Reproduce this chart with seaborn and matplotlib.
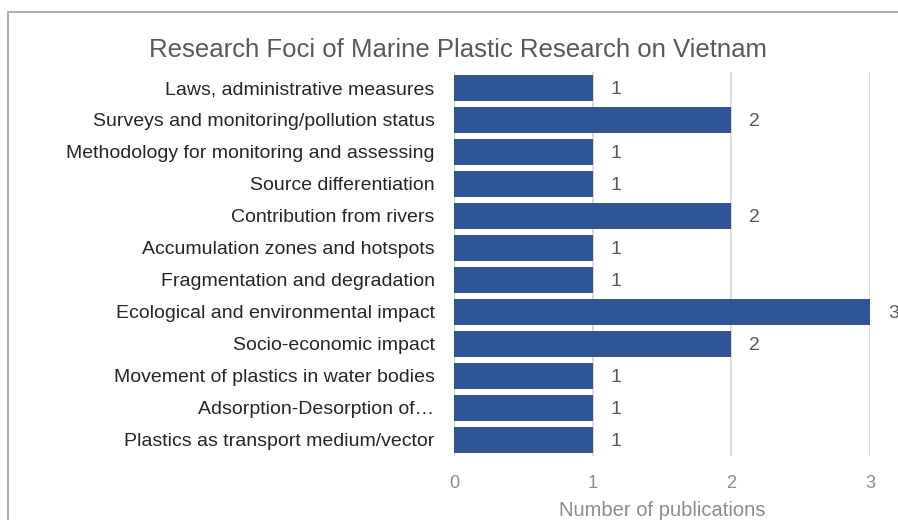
import matplotlib
matplotlib.use("Agg")
import matplotlib.pyplot as plt
import seaborn as sns
import pandas as pd
from matplotlib.patches import Rectangle

categories = [
    "Laws, administrative measures",
    "Surveys and monitoring/pollution status",
    "Methodology for monitoring and assessing",
    "Source differentiation",
    "Contribution from rivers",
    "Accumulation zones and hotspots",
    "Fragmentation and degradation",
    "Ecological and environmental impact",
    "Socio-economic impact",
    "Movement of plastics in water bodies",
    "Adsorption-Desorption of\u2026",
    "Plastics as transport medium/vector",
]
values = [1, 2, 1, 1, 2, 1, 1, 3, 2, 1, 1, 1]
x_ticks = [0, 1, 2, 3]

df = pd.DataFrame({"category": categories, "value": values})

sns.set_theme(style="white")
plt.rcParams["font.family"] = ["Liberation Sans", "DejaVu Sans"]

fig = plt.figure(figsize=(8.98, 5.2), dpi=100)
ax = fig.add_axes([454/898, 1-456/520, (870-454)/898, (456-72)/520])

sns.barplot(data=df, x="value", y="category", orient="h", color="#2F5597",
            saturation=1, width=0.8, ax=ax, order=categories, linewidth=0)

ax.set_xlim(0, 3)
ax.set_ylim(len(categories)-0.5, -0.5)
ax.set_xticks(x_ticks)
ax.set_xticklabels([str(t) for t in x_ticks], color="#8C8C8C", fontsize=13)
ax.tick_params(axis="x", length=0, pad=14)
ax.tick_params(axis="y", length=0, pad=14, labelsize=14, labelcolor="#262626")
ax.set_xlabel("")
ax.set_ylabel("")
for s in ax.spines.values():
    s.set_visible(False)
ax.xaxis.grid(True, color="#D9D9D9", linewidth=1.3)
ax.set_axisbelow(True)
ax.set_clip_on(False)

for c in ax.containers:
    anns = ax.bar_label(c, labels=[str(v) for v in values], padding=13,
                        fontsize=14, color="#595959")
    for a in anns:
        a.set_va("center_baseline")

fig.text(458/898, 1-50/520, "Research Foci of Marine Plastic Research on Vietnam",
         ha="center", va="center", fontsize=18.5, color="#595959")
fig.text(662/898, 1-511/520, "Number of publications",
         ha="center", va="center", fontsize=14.5, color="#8C8C8C")

fig.patches.append(Rectangle((8/898, -0.1), 1.2, 1-12/520+0.1,
                             transform=fig.transFigure, fill=False,
                             edgecolor="#A6A6A6", linewidth=1.3))

fig.savefig("out.png", dpi=100)
